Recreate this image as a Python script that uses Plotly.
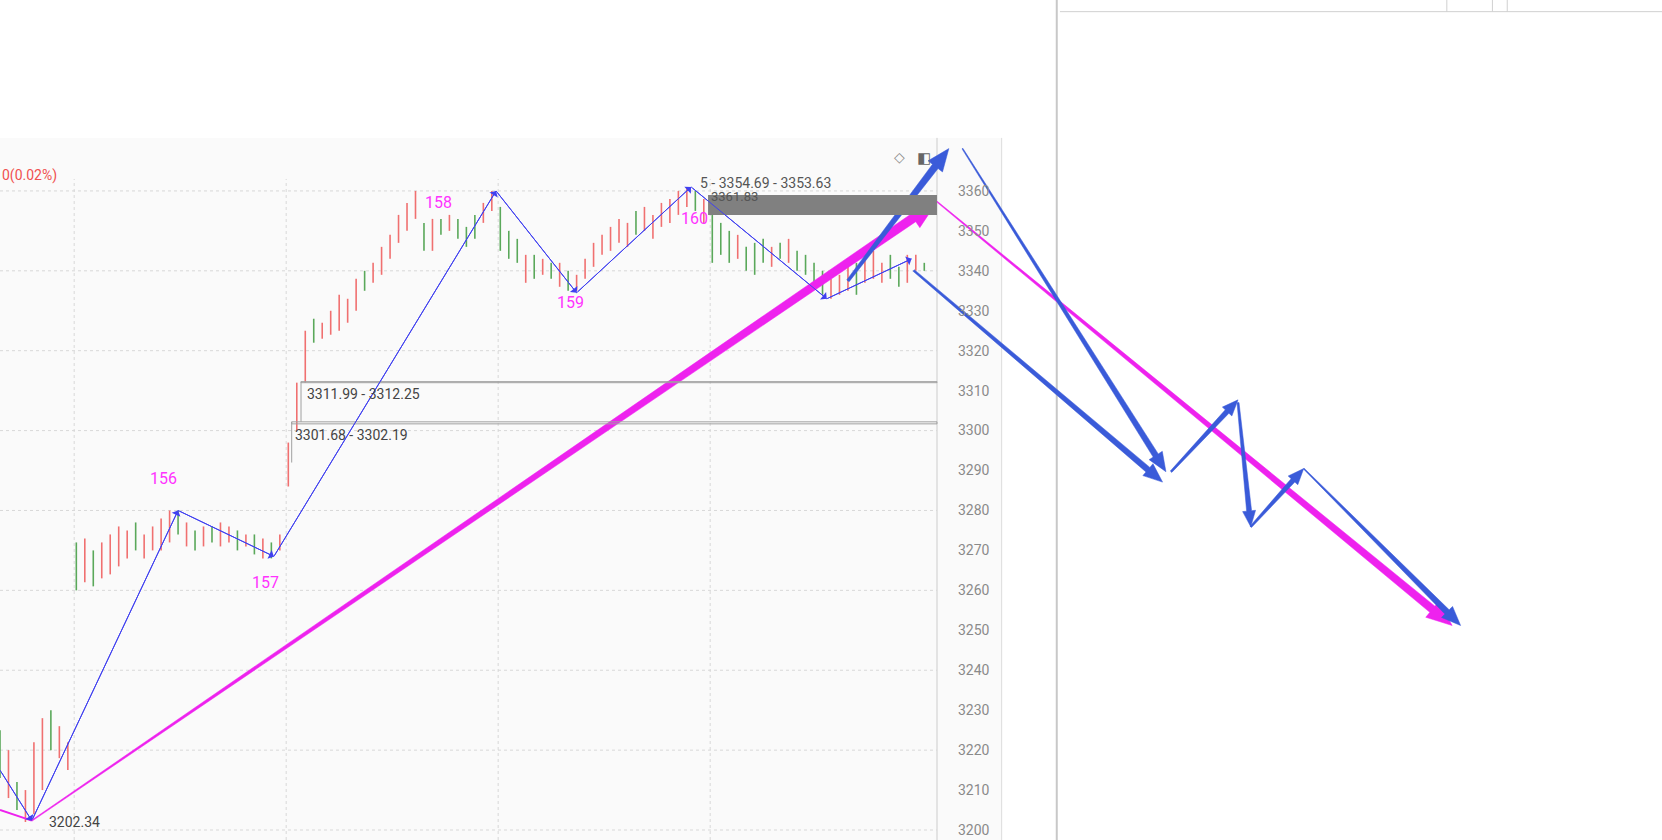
import plotly.graph_objects as go
import math

# ---------------- data ----------------
bar_low = [3213,3208,3205,3202,3204,3210,3220,3218,3215,3260,3262,3261,3263,3264,3266,3268,3270,3268,3270,3270,
           3272,3274,3271,3270,3271,3272,3271,3272,3270,3271,3269,3268,3268,3270,3286,3300,3312,3322,3323,3324,
           3325,3327,3330,3335,3337,3339,3343,3347,3350,3353,3345,3345,3349,3350,3348,3346,3348,3352,3355,3345,
           3343,3342,3337,3338,3339,3338,3336,3335,3335,3338,3341,3344,3345,3347,3346,3349,3350,3348,3351,3352,
           3354,3356,3355,3352,3342,3344,3342,3343,3340,3339,3342,3341,3343,3342,3340,3339,3337,3334,3333,3334,
           3335,3334,3337,3338,3337,3338,3336,3337,3340,3340]
bar_high = [3225,3220,3212,3210,3222,3228,3230,3226,3222,3272,3273,3270,3272,3274,3276,3275,3277,3274,3276,3278,
            3280,3280,3277,3275,3276,3276,3277,3276,3275,3274,3274,3273,3272,3274,3297,3312,3325,3328,3327,3330,
            3334,3333,3338,3340,3342,3346,3349,3354,3357,3360,3352,3353,3353,3354,3353,3351,3354,3357,3360,3356,
            3350,3348,3344,3344,3343,3342,3342,3340,3339,3343,3347,3349,3351,3353,3352,3355,3356,3354,3357,3358,
            3360,3361,3360,3358,3355,3352,3350,3349,3346,3347,3348,3346,3347,3348,3345,3344,3342,3340,3338,3339,
            3341,3342,3343,3345,3342,3344,3341,3344,3344,3342]
bar_dir = "grgrrrgrrgrgrrrrgrrr" + "rgrgrgrrgrgrgrrrrgrr" + "rrrgrrrrrrgrgrgggrrg" + "ggrgrgrgrrrrrrrgrrrr" + \
          "rrgrgggrgggrgrggggrr" + "rgrrrggrrg"

zigzag_x = [0.0, 3.75, 21.0, 32.3, 58.5, 68.0, 81.5, 97.5, 107.5]
zigzag_y = [3215, 3202.34, 3280, 3268.5, 3360, 3334.5, 3361, 3333, 3343]
pivot_labels = ["155", "156", "157", "158", "159", "160"]
pivot_lx = [-0.3, 17.4, 29.5, 49.9, 65.5, 80.1]
pivot_ly = [3206, 3288, 3262, 3357, 3332, 3353]

mag_x = [0.0, 3.75, 110.5, 171.25]
mag_y = [3205, 3202.34, 3357.3, 3251.2]

proj_x0 = [100.0, 113.5, 107.75, 138.1, 146.0, 147.5, 153.75]
proj_y0 = [3337.5, 3370.6, 3340.1, 3289.7, 3307.0, 3275.9, 3290.5]
proj_x1 = [111.9, 137.5, 137.1, 146.0, 147.5, 153.75, 172.25]
proj_y1 = [3370.6, 3289.7, 3287.1, 3307.7, 3275.9, 3290.5, 3251.2]
proj_w0 = [3, 1, 2, 2, 2, 2, 1]
proj_w1 = [7, 6, 6, 5, 5, 5, 6]

yticks = list(range(3200, 3361, 10))
XR = [0, 196]
YR = [3197.5, 3407.8]
W, H = 1662, 840
PX = W / (XR[1] - XR[0])
PY = H / (YR[1] - YR[0])

fig = go.Figure()

shapes = [
    dict(type="rect", xref="paper", yref="paper", x0=0, x1=945/1568, y0=0, y1=1-130/792,
         fillcolor="#fafafa", line_width=0, layer="below"),
    dict(type="line", xref="paper", yref="paper", x0=997/1568, x1=997/1568, y0=0, y1=1,
         line=dict(color="#c8c8c8", width=2), layer="below"),
    dict(type="line", xref="paper", yref="paper", x0=945/1568, x1=945/1568, y0=0, y1=1-130/792,
         line=dict(color="#dddddd", width=1), layer="below"),
    dict(type="line", xref="paper", yref="paper", x0=884/1568, x1=884/1568, y0=0, y1=1-130/792,
         line=dict(color="#cccccc", width=1), layer="below"),
    dict(type="line", xref="paper", yref="paper", x0=1000/1568, x1=1, y0=1-11/792, y1=1-11/792,
         line=dict(color="#d0d0d0", width=1)),
]
for xp in [1365, 1408, 1422]:
    shapes.append(dict(type="line", xref="paper", yref="paper", x0=xp/1568, x1=xp/1568, y0=1-11/792, y1=1,
                       line=dict(color="#d0d0d0", width=1)))
for gx in [8.75, 33.75, 58.75, 83.75]:
    shapes.append(dict(type="line", x0=gx, x1=gx, y0=YR[0], y1=3363, line=dict(color="#d8d8d8", width=1, dash="dot"), layer="below"))
for gy in range(3200, 3361, 20):
    shapes.append(dict(type="line", x0=0, x1=110.5, y0=gy, y1=gy, line=dict(color="#d8d8d8", width=1, dash="dot"), layer="below"))
shapes.append(dict(type="rect", x0=83.5, x1=110.5, y0=3354.0, y1=3359.0, fillcolor="#808080", line_width=0))
shapes.append(dict(type="rect", x0=35.5, x1=110.5, y0=3311.99, y1=3312.25, line=dict(color="#a0a0a0", width=1)))
shapes.append(dict(type="line", x0=35.5, x1=35.5, y0=3302.19, y1=3312.25, line=dict(color="#a0a0a0", width=1)))
shapes.append(dict(type="rect", x0=34.4, x1=110.5, y0=3301.68, y1=3302.19, line=dict(color="#a0a0a0", width=1)))
shapes.append(dict(type="line", x0=34.4, x1=34.4, y0=3292, y1=3302.19, line=dict(color="#a0a0a0", width=1)))

for col, key in [("#f07070", "r"), ("#5aa85a", "g")]:
    xs, ys = [], []
    for i, (lo, hi) in enumerate(zip(bar_low, bar_high)):
        if bar_dir[i] == key:
            xs += [i, i, None]; ys += [lo, hi, None]
    fig.add_trace(go.Scatter(x=xs, y=ys, mode="lines", line=dict(color=col, width=1.6), hoverinfo="skip"))

fig.add_trace(go.Scatter(x=zigzag_x, y=zigzag_y, mode="lines", line=dict(color="#4040f0", width=1), hoverinfo="skip"))
ann = []
for i in range(1, len(zigzag_x)):
    ann.append(dict(x=zigzag_x[i], y=zigzag_y[i], ax=zigzag_x[i-1], ay=zigzag_y[i-1], xref="x", yref="y",
                    axref="x", ayref="y", showarrow=True, arrowhead=1, arrowsize=1.6, arrowwidth=1,
                    arrowcolor="#4040f0", text=""))

def tapered(x0, y0, x1, y1, w0, w1, color, head=True):
    p0 = ((x0 - XR[0]) * PX, (YR[1] - y0) * PY)
    p1 = ((x1 - XR[0]) * PX, (YR[1] - y1) * PY)
    dx, dy = p1[0] - p0[0], p1[1] - p0[1]
    L = math.hypot(dx, dy); ux, uy = dx / L, dy / L; nx, ny = -uy, ux
    hl = 3.2 * w1 if head else 0
    hb = (p1[0] - ux * hl, p1[1] - uy * hl)
    pts = [(p0[0] + nx * w0 / 2, p0[1] + ny * w0 / 2), (hb[0] + nx * w1 / 2, hb[1] + ny * w1 / 2)]
    if head:
        pts += [(hb[0] + nx * w1 * 1.3, hb[1] + ny * w1 * 1.3), p1, (hb[0] - nx * w1 * 1.3, hb[1] - ny * w1 * 1.3)]
    pts += [(hb[0] - nx * w1 / 2, hb[1] - ny * w1 / 2), (p0[0] - nx * w0 / 2, p0[1] - ny * w0 / 2)]
    xs = [XR[0] + p[0] / PX for p in pts] + [XR[0] + pts[0][0] / PX]
    ys = [YR[1] - p[1] / PY for p in pts] + [YR[1] - pts[0][1] / PY]
    fig.add_trace(go.Scatter(x=xs, y=ys, mode="lines", fill="toself", fillcolor=color,
                             line=dict(color=color, width=0.5), hoverinfo="skip"))

fig.add_trace(go.Scatter(x=mag_x[:2], y=mag_y[:2], mode="lines", line=dict(color="#ee22ee", width=2), hoverinfo="skip"))
tapered(mag_x[1], mag_y[1], mag_x[2], mag_y[2], 1, 9, "#ee22ee")
tapered(mag_x[2], mag_y[2], mag_x[3], mag_y[3], 1, 8, "#ee22ee")
for i in range(len(proj_x0)):
    tapered(proj_x0[i], proj_y0[i], proj_x1[i], proj_y1[i], proj_w0[i], proj_w1[i], "#3a5bd9")

for t, x, y in zip(pivot_labels, pivot_lx, pivot_ly):
    ann.append(dict(x=x, y=y, text=t, showarrow=False, xanchor="left", font=dict(color="#ff33ff", size=16)))
ann += [
    dict(x=5.5, y=3202.0, text="3202.34", showarrow=False, xanchor="left", font=dict(color="#444", size=14)),
    dict(x=36.0, y=3309.2, text="3311.99 - 3312.25", showarrow=False, xanchor="left", font=dict(color="#444", size=14)),
    dict(x=34.6, y=3299.0, text="3301.68 - 3302.19", showarrow=False, xanchor="left", font=dict(color="#444", size=14)),
    dict(x=82.3, y=3362.0, text="5 - 3354.69 - 3353.63", showarrow=False, xanchor="left", font=dict(color="#555", size=14)),
    dict(x=83.6, y=3358.6, text="3361.83", showarrow=False, xanchor="left", font=dict(color="#555", size=13)),
    dict(xref="paper", yref="paper", x=0, y=1-156/792, text="0(0.02%)", showarrow=False, xanchor="left",
         font=dict(color="#f05050", size=14)),
    dict(xref="paper", yref="paper", x=849/1568, y=1-139/792, text="◇", showarrow=False, font=dict(color="#888", size=14)),
    dict(xref="paper", yref="paper", x=872/1568, y=1-139/792, text="◧", showarrow=False, font=dict(color="#666", size=15)),
]

fig.update_layout(
    width=W, height=H, margin=dict(l=0, r=0, t=0, b=0), showlegend=False,
    paper_bgcolor="white", plot_bgcolor="rgba(0,0,0,0)",
    shapes=shapes, annotations=ann,
    font=dict(family="Roboto, Arial, sans-serif"),
    xaxis=dict(range=XR, visible=False, fixedrange=True),
    yaxis=dict(range=YR, tickvals=yticks, ticktext=[str(v) for v in yticks], showgrid=False, zeroline=False,
               side="right", anchor="free", position=884/1568, ticks="", ticklabelstandoff=20,
               tickfont=dict(color="#8a8a8a", size=14), showline=False),
)
fig.write_html("out.html", config={"displayModeBar": False},
               post_script="document.body.style.margin='0';")
